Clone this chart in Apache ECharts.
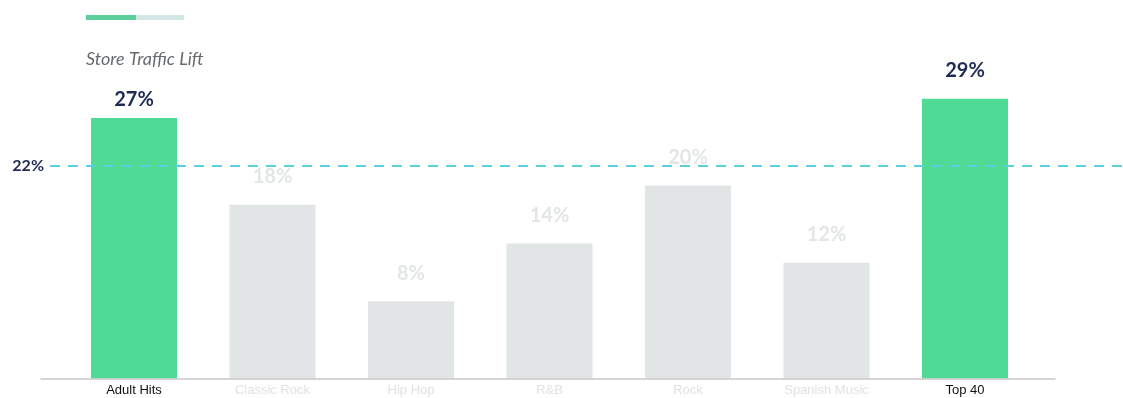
<!DOCTYPE html>
<html>
<head>
<meta charset="utf-8">
<script src="https://cdn.jsdelivr.net/npm/echarts@6/dist/echarts.min.js"></script>
<style>
html,body{margin:0;padding:0;background:#fff;}
#chart{width:1123px;height:398px;}
</style>
</head>
<body>
<div id="chart"></div>
<script>
const categories = ['Adult Hits', 'Classic Rock', 'Hip Hop', 'R&B', 'Rock', 'Spanish Music', 'Top 40'];
const values = [27, 18, 8, 14, 20, 12, 29];
const highlighted = [true, false, false, false, false, false, true];
const referenceValue = [22];
const yRange = [0, 30];

const GREEN = '#4fdb96';
const GRAY_BAR = '#e2e5e6';
const NAVY = '#1e2c55';
const GRAY_TXT = '#e3e6e7';

const chart = echarts.init(document.getElementById('chart'));

const barData = values.map((v, i) => ({
  value: v,
  itemStyle: { color: highlighted[i] ? GREEN : GRAY_BAR },
  label: {
    color: highlighted[i] ? NAVY : GRAY_TXT,
    distance: i === 0 ? 8 : 18
  }
}));

const catData = categories.map((c, i) => ({
  value: c,
  textStyle: { color: highlighted[i] ? '#111' : '#e0e2e3' }
}));

chart.setOption({
  animation: false,
  title: {
    text: 'Store Traffic Lift',
    left: 81,
    top: 45,
    textStyle: {
      fontFamily: 'Lato',
      fontStyle: 'italic',
      fontWeight: 'normal',
      fontSize: 18,
      color: '#666a6e'
    }
  },
  graphic: [
    { type: 'rect', left: 86, top: 15, shape: { width: 50, height: 5 }, style: { fill: '#5ccf9b' } },
    { type: 'rect', left: 136, top: 15, shape: { width: 48, height: 5 }, style: { fill: '#d3e7e5' } }
  ],
  grid: [
    { left: 64.75, width: 969.5, top: 89, bottom: 19.5 },
    { left: 41, right: 68, top: 89, bottom: 19.5 },
    { left: 50, right: 0, top: 89, bottom: 19.5 }
  ],
  xAxis: [
    {
      type: 'category', gridIndex: 0, data: catData,
      axisLine: { show: false }, axisTick: { show: false },
      axisLabel: { fontFamily: 'Liberation Sans', fontSize: 13, margin: 5 }
    },
    {
      type: 'category', gridIndex: 1, data: categories,
      axisLine: { show: true, lineStyle: { color: '#c8c8c8', width: 1.5 } },
      axisTick: { show: false }, axisLabel: { show: false }, z: 5
    },
    { type: 'value', gridIndex: 2, min: 0, max: 1, show: false }
  ],
  yAxis: [
    { type: 'value', gridIndex: 0, min: yRange[0], max: yRange[1], show: false },
    { type: 'value', gridIndex: 1, min: yRange[0], max: yRange[1], show: false },
    { type: 'value', gridIndex: 2, min: yRange[0], max: yRange[1], show: false }
  ],
  series: [
    {
      type: 'bar', xAxisIndex: 0, yAxisIndex: 0,
      barWidth: 86,
      data: barData,
      label: {
        show: true, position: 'top',
        formatter: '{c}%',
        fontFamily: 'Lato', fontWeight: 'bold', fontSize: 20
      }
    },
    {
      type: 'line', xAxisIndex: 2, yAxisIndex: 2, data: [],
      markLine: {
        symbol: 'none',
        silent: true,
        lineStyle: { color: '#5bcfe0', type: [10, 8], width: 2 },
        label: {
          position: 'start', formatter: '{c}%', distance: 6,
          color: NAVY, fontFamily: 'Lato', fontWeight: 'bold', fontSize: 16
        },
        data: referenceValue.map(v => ({ yAxis: v }))
      }
    }
  ]
});
</script>
</body>
</html>
